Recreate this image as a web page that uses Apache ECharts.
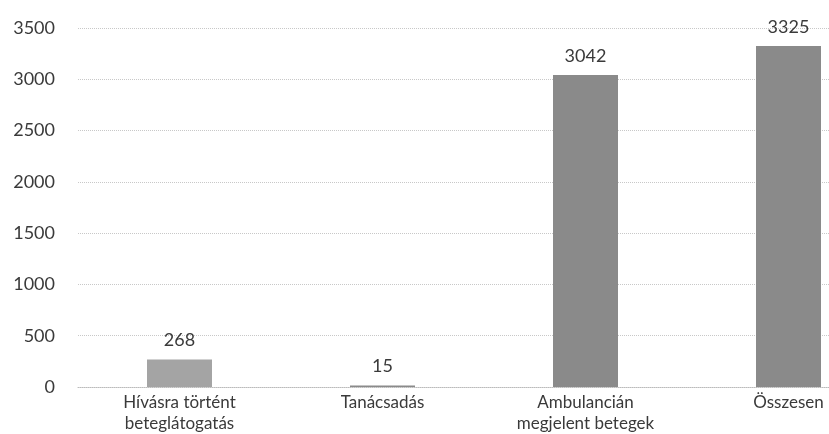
<!DOCTYPE html>
<html>
<head>
<meta charset="utf-8">
<script src="https://cdn.jsdelivr.net/npm/echarts@6/dist/echarts.min.js"></script>
<style>
  html, body { margin: 0; padding: 0; background: #fff; overflow: hidden; }
  /* the original chart is cut off at the right edge, so the canvas is wider than the window */
  #chart { width: 892px; height: 434px; }
</style>
</head>
<body>
<div id="chart"></div>
<script>
  // kategóriák és értékek
  const categories = ['Hívásra történt\nbeteglátogatás', 'Tanácsadás', 'Ambulancián\nmegjelent betegek', 'Összesen']
  const values = [268, 15, 3042, 3325]
  const yTicks = [0, 500, 1000, 1500, 2000, 2500, 3000, 3500]

  const chart = echarts.init(document.getElementById('chart'))

  chart.setOption({
    backgroundColor: '#fff',
    animation: false,
    grid: {
      left: 78,
      right: 2,
      top: 28,
      bottom: 42,
      containLabel: false
    },
    xAxis: {
      type: 'category',
      data: categories,
      axisLine: { show: true, lineStyle: { color: '#bbb', type: 'dotted' } },
      axisTick: { show: false },
      axisLabel: {
        fontFamily: 'Lato',
        fontSize: 17,
        color: '#3a3a3a',
        lineHeight: 21,
        margin: 5,
        interval: 0
      }
    },
    yAxis: {
      type: 'value',
      min: yTicks[0],
      max: yTicks[yTicks.length - 1],
      interval: 500,
      axisLine: { show: false },
      axisTick: { show: false },
      splitLine: { lineStyle: { color: '#c8c8c8', type: 'dotted', width: 1 } },
      axisLabel: {
        fontFamily: 'Lato',
        fontSize: 18,
        color: '#3a3a3a',
        margin: 23,
        formatter: function (v) { return String(v) }
      }
    },
    series: [
      {
        type: 'bar',
        data: values,
        barWidth: 65,
        itemStyle: {
          color: function (p) {
            return p.dataIndex === 0 ? '#a4a4a4' : '#8a8a8a'
          }
        },
        label: {
          show: true,
          position: 'top',
          distance: 10,
          fontFamily: 'Lato',
          fontSize: 18,
          color: '#3a3a3a'
        }
      }
    ]
  })
</script>
</body>
</html>
